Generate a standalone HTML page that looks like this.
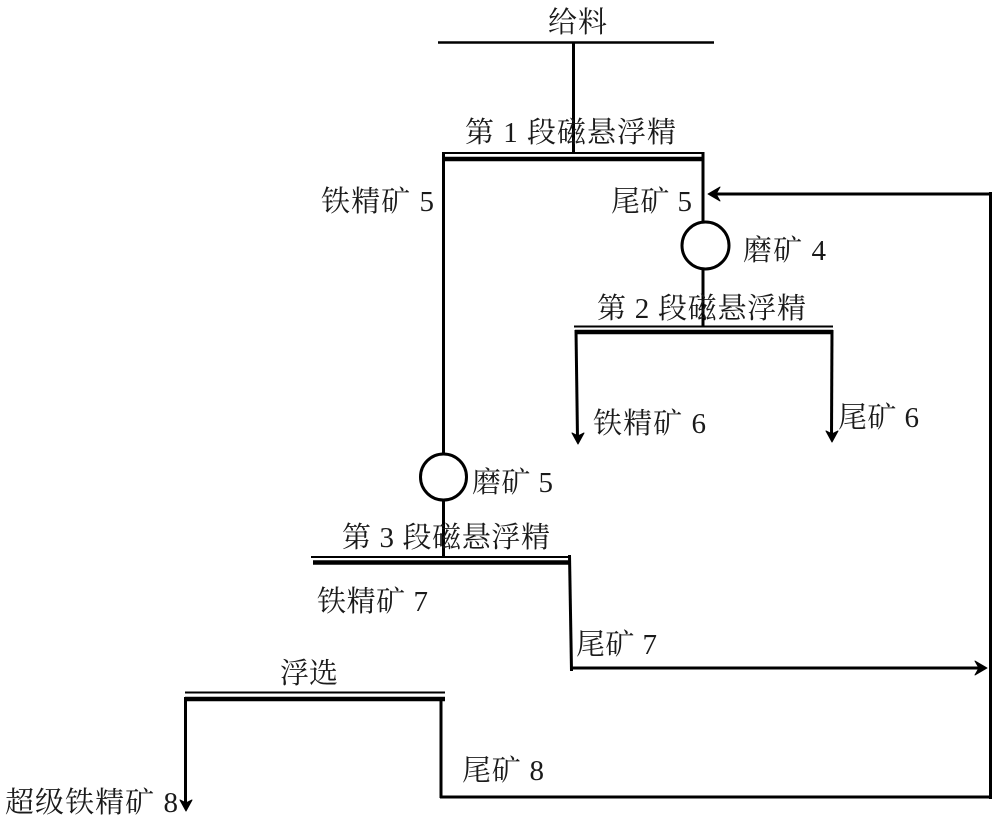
<!DOCTYPE html>
<html lang="zh">
<head>
<meta charset="utf-8">
<title>Diagram</title>
<style>
html,body{margin:0;padding:0;background:#fff;width:1000px;height:822px;overflow:hidden}
svg{display:block}
text{font-family:"Liberation Serif","Noto Serif CJK SC",serif;font-size:29px;fill:#1a1a1a}
</style>
</head>
<body>
<svg width="1000" height="822" viewBox="0 0 1000 822" xmlns="http://www.w3.org/2000/svg">
<g stroke="#000" fill="none" stroke-width="2.5">
  <!-- feed -->
  <line x1="438" y1="42.5" x2="714" y2="42.5"/>
  <line x1="573.5" y1="42" x2="573.5" y2="153" stroke-width="3"/>
  <!-- bar 1 -->
  <line x1="442" y1="153" x2="704" y2="153" stroke-width="2"/>
  <line x1="443" y1="159" x2="704" y2="159" stroke-width="4.5"/>
  <line x1="443.5" y1="153" x2="443.5" y2="453" stroke-width="3"/>
  <line x1="703" y1="152" x2="703" y2="222" stroke-width="3"/>
  <circle cx="705.5" cy="245.5" r="23.5" stroke-width="3"/>
  <line x1="703" y1="270" x2="703" y2="327" stroke-width="3"/>
  <!-- bar 2 -->
  <line x1="574" y1="326.5" x2="833" y2="326.5" stroke-width="2"/>
  <line x1="575" y1="332" x2="833" y2="332" stroke-width="4.5"/>
  <line x1="576" y1="330" x2="577.5" y2="438" stroke-width="3"/>
  <line x1="832" y1="330" x2="831.5" y2="436" stroke-width="3"/>
  <!-- recycle -->
  <line x1="712" y1="194" x2="991" y2="194" stroke-width="3"/>
  <line x1="990.5" y1="192" x2="990.5" y2="799" stroke-width="3"/>
  <!-- circle 2 -->
  <circle cx="443.5" cy="477" r="23" stroke-width="3"/>
  <line x1="443.5" y1="501" x2="443.5" y2="557" stroke-width="3"/>
  <!-- bar 3 -->
  <line x1="311" y1="557" x2="569" y2="557" stroke-width="2"/>
  <line x1="313" y1="562.5" x2="570" y2="562.5" stroke-width="4.5"/>
  <line x1="569.5" y1="555" x2="571.5" y2="671" stroke-width="3"/>
  <line x1="570" y1="668" x2="982" y2="668" stroke-width="3"/>
  <!-- bar 4 -->
  <line x1="185" y1="692.5" x2="445" y2="692.5" stroke-width="2"/>
  <line x1="185" y1="699" x2="445" y2="699" stroke-width="4.5"/>
  <line x1="185.5" y1="697" x2="185.5" y2="805" stroke-width="3"/>
  <line x1="441" y1="697" x2="441" y2="798" stroke-width="3"/>
  <line x1="440" y1="797" x2="991" y2="797" stroke-width="3"/>
</g>
<g fill="#000" stroke="#000" stroke-width="1" stroke-linejoin="round">
  <polygon points="708,194 720,187 716,194 720,201"/>
  <polygon points="987,668 975,661 979,668 975,675"/>
  <polygon points="578,444 572,433 578,436 584,433"/>
  <polygon points="832,442 826,431 832,434 838,431"/>
  <polygon points="186,811 180,800 186,803 192,800"/>
</g>
<text x="548" y="32" textLength="59">给料</text>
<text x="465" y="142" textLength="211">第 1 段磁悬浮精</text>
<text x="321" y="211" textLength="113">铁精矿 5</text>
<text x="611" y="211" textLength="81">尾矿 5</text>
<text x="743" y="260" textLength="83">磨矿 4</text>
<text x="597" y="318" textLength="209">第 2 段磁悬浮精</text>
<text x="593" y="433" textLength="113">铁精矿 6</text>
<text x="838" y="427" textLength="81">尾矿 6</text>
<text x="472" y="492" textLength="81">磨矿 5</text>
<text x="342" y="547" textLength="208">第 3 段磁悬浮精</text>
<text x="317" y="611" textLength="111">铁精矿 7</text>
<text x="576" y="654" textLength="81">尾矿 7</text>
<text x="280" y="683" textLength="58">浮选</text>
<text x="462" y="780" textLength="82">尾矿 8</text>
<text x="5" y="812" textLength="173">超级铁精矿 8</text>
</svg>
</body>
</html>
